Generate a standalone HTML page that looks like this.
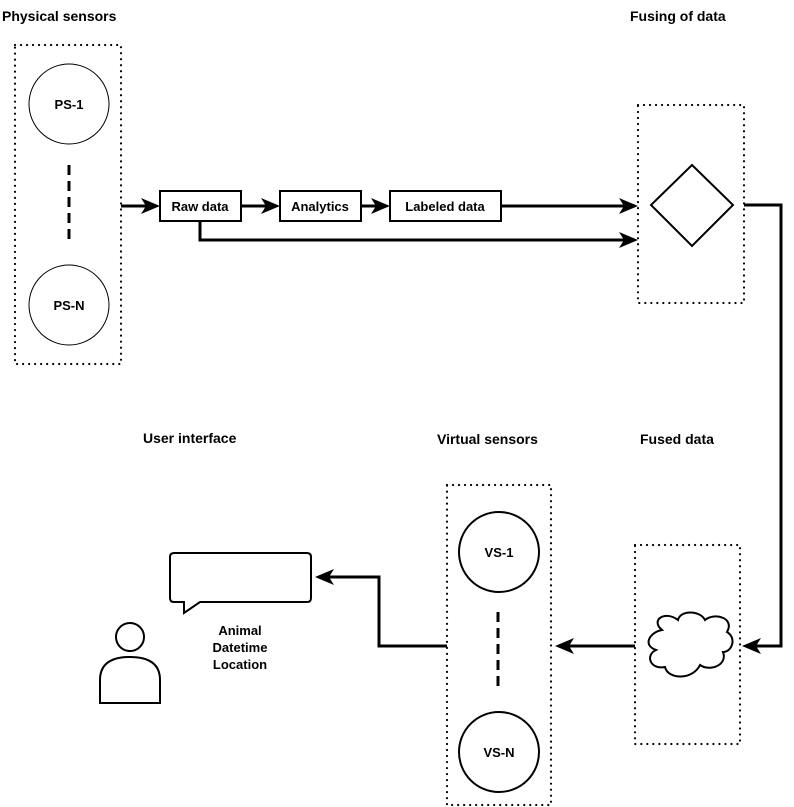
<!DOCTYPE html>
<html><head><meta charset="utf-8"><style>
html,body{margin:0;padding:0;background:#fff;}
svg{display:block;}
text{font-family:"Liberation Sans",sans-serif;font-weight:bold;fill:#000;}
</style></head><body>
<svg width="794" height="807" viewBox="0 0 794 807" xmlns="http://www.w3.org/2000/svg">
<g font-size="14">
<text x="2" y="21">Physical sensors</text>
<text x="630" y="21">Fusing of data</text>
<text x="143" y="443">User interface</text>
<text x="437" y="444">Virtual sensors</text>
<text x="640" y="444">Fused data</text>
</g>
<g fill="none" stroke="#000" stroke-width="2.2" stroke-dasharray="0.01 6" stroke-linecap="round">
<rect x="15" y="45" width="106" height="319"/>
<rect x="638" y="105" width="106" height="198"/>
<rect x="635" y="545" width="105" height="199"/>
<rect x="447" y="485" width="104" height="320"/>
</g>
<circle cx="69" cy="104" r="40" fill="none" stroke="#000" stroke-width="1"/>
<circle cx="69" cy="305" r="40" fill="none" stroke="#000" stroke-width="1"/>
<line x1="69" y1="165" x2="69" y2="245" stroke="#000" stroke-width="3" stroke-dasharray="10 6"/>
<text x="69" y="109" font-size="13" text-anchor="middle">PS-1</text>
<text x="69" y="310" font-size="13" text-anchor="middle">PS-N</text>
<g fill="#fff" stroke="#000" stroke-width="2">
<rect x="160" y="191" width="81" height="30"/>
<rect x="280" y="191" width="81" height="30"/>
<rect x="390" y="191" width="111" height="30"/>
</g>
<g font-size="13" text-anchor="middle">
<text x="200" y="211">Raw data</text>
<text x="320" y="211">Analytics</text>
<text x="445" y="211">Labeled data</text>
</g>
<g fill="none" stroke="#000" stroke-width="3">
<line x1="121" y1="206" x2="150" y2="206"/>
<line x1="241" y1="206" x2="270" y2="206"/>
<line x1="361" y1="206" x2="380" y2="206"/>
<line x1="501" y1="206" x2="628" y2="206"/>
<polyline points="200,221 200,240 628,240"/>
<polyline points="744,205 781,205 781,646 752,646"/>
<line x1="635" y1="646" x2="565" y2="646"/>
<polyline points="447,646 379,646 379,577 325,577"/>
</g>
<g fill="#000">
<path d="M160,206 L141,198 L146,206 L141,214 Z"/>
<path d="M280,206 L261,198 L266,206 L261,214 Z"/>
<path d="M390,206 L371,198 L376,206 L371,214 Z"/>
<path d="M638,206 L619,198 L624,206 L619,214 Z"/>
<path d="M638,240 L619,232 L624,240 L619,248 Z"/>
<path d="M742,646 L761,638 L756,646 L761,654 Z"/>
<path d="M555,646 L574,638 L569,646 L574,654 Z"/>
<path d="M315,577 L334,569 L329,577 L334,585 Z"/>
</g>
<polygon points="692,165 733,205 692,246 651,205" fill="#fff" stroke="#000" stroke-width="2"/>
<path d="M662,630 C650,620 665,610 678,620 C680,610 700,610 705,620 C715,612 735,618 727,632 C737,638 732,652 723,652 C728,665 710,672 700,665 C693,680 668,680 665,667 C650,670 645,655 656,650 C642,645 650,632 662,630 Z" fill="#fff" stroke="#000" stroke-width="2"/>
<circle cx="499" cy="552" r="40" fill="#fff" stroke="#000" stroke-width="2"/>
<circle cx="499" cy="752" r="40" fill="#fff" stroke="#000" stroke-width="2"/>
<line x1="498" y1="612" x2="498" y2="692" stroke="#000" stroke-width="3" stroke-dasharray="10 6"/>
<text x="499" y="557" font-size="13" text-anchor="middle">VS-1</text>
<text x="499" y="757" font-size="13" text-anchor="middle">VS-N</text>
<path d="M174,553 H307 Q311,553 311,557 V598 Q311,602 307,602 H200 L184,613 V602 H174 Q170,602 170,598 V557 Q170,553 174,553 Z" fill="#fff" stroke="#000" stroke-width="2"/>
<g font-size="13" text-anchor="middle">
<text x="240" y="635">Animal</text>
<text x="240" y="652">Datetime</text>
<text x="240" y="669">Location</text>
</g>
<circle cx="130" cy="637" r="14" fill="#fff" stroke="#000" stroke-width="2"/>
<path d="M100,703 V680 Q100,657 130,657 Q160,657 160,680 V703 Z" fill="#fff" stroke="#000" stroke-width="2"/>
</svg>
</body></html>
